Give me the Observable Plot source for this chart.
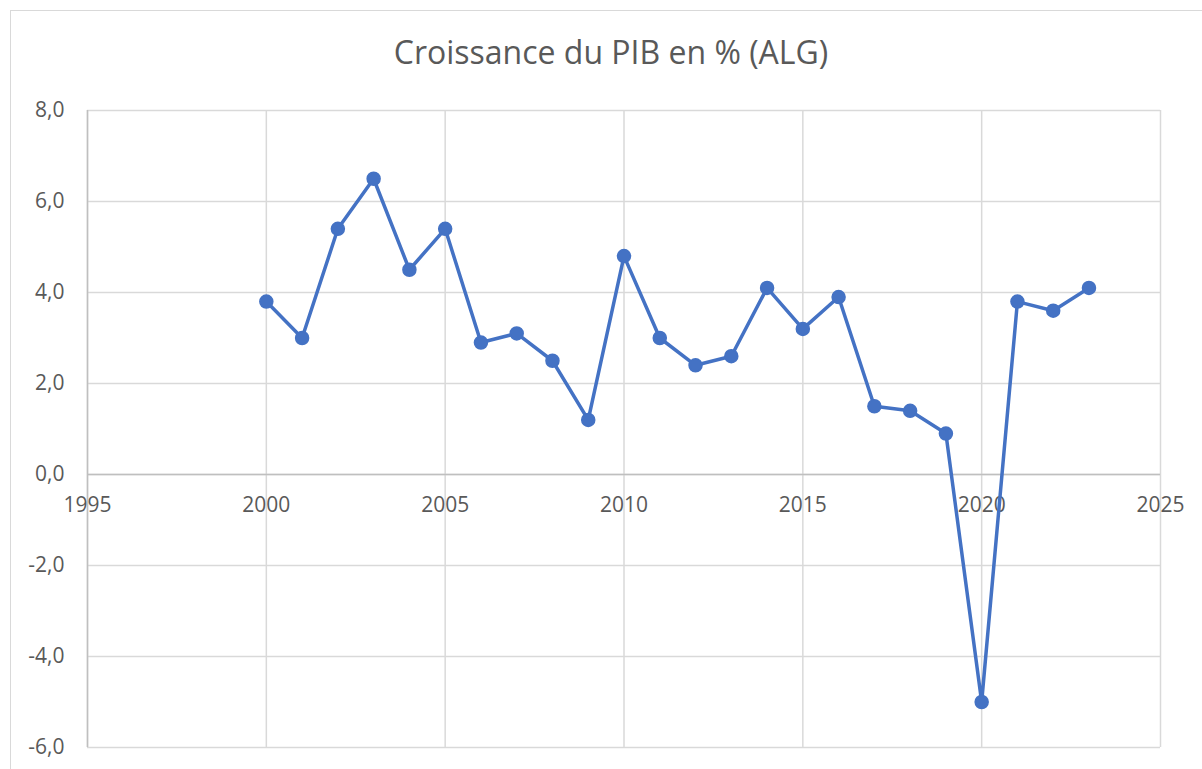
<!DOCTYPE html>
<html>
<head>
<meta charset="utf-8">
<script src="https://cdn.jsdelivr.net/npm/d3@7"></script>
<script src="https://cdn.jsdelivr.net/npm/@observablehq/plot@0.6"></script>
<style>
  html, body { margin: 0; padding: 0; background: #fff; overflow: hidden; }
  #wrap { position: relative; width: 1202px; height: 769px; }
  #border { position: absolute; left: 10px; top: 10px; width: 1210px; height: 780px; border: 1.5px solid #d9d9d9; box-sizing: border-box; }
  #title { position: absolute; left: 0; width: 1222px; top: 30px; text-align: center; font-family: "Open Sans", sans-serif; font-size: 32px; color: #595959; }
  #chart { position: absolute; left: 0; top: 0; }
</style>
</head>
<body>
<div id="wrap">
  <div id="border"></div>
  <div id="title">Croissance du PIB en % (ALG)</div>
  <div id="chart"></div>
</div>
<script>
const years = [2000,2001,2002,2003,2004,2005,2006,2007,2008,2009,2010,2011,2012,2013,2014,2015,2016,2017,2018,2019,2020,2021,2022,2023];
const growth = [3.8,3.0,5.4,6.5,4.5,5.4,2.9,3.1,2.5,1.2,4.8,3.0,2.4,2.6,4.1,3.2,3.9,1.5,1.4,0.9,-5.0,3.8,3.6,4.1];
const xTicks = [1995,2000,2005,2010,2015,2020,2025];
const yTicks = [-6,-4,-2,0,2,4,6,8];

const data = years.map((y, i) => ({year: y, value: growth[i]}));
const fmt = v => v.toFixed(1).replace(".", ",");
const font = "'Open Sans', sans-serif";

const plot = Plot.plot({
  width: 1202,
  height: 769,
  marginLeft: 87,
  marginTop: 110,
  marginRight: 42,
  marginBottom: 22,
  style: {fontFamily: font, fontSize: "21px", color: "#595959", background: "transparent"},
  x: {domain: [1995, 2025], axis: null},
  y: {domain: [-6, 8]},
  marks: [
    Plot.gridX(xTicks, {stroke: "#d9d9d9", strokeOpacity: 1, strokeWidth: 1.5}),
    Plot.gridY(yTicks, {stroke: "#d9d9d9", strokeOpacity: 1, strokeWidth: 1.5}),
    Plot.ruleX([1995], {stroke: "#bfbfbf", strokeWidth: 1.5}),
    Plot.ruleY([0], {stroke: "#bfbfbf", strokeWidth: 1.5}),
    Plot.axisY(yTicks, {tickSize: 0, tickPadding: 23, tickFormat: fmt, label: null, fill: "#595959", fontSize: 21}),
    Plot.text(xTicks, {x: d => d, y: 0, dy: 31, text: d => String(d), fill: "#595959", fontSize: 21}),
    Plot.line(data, {x: "year", y: "value", stroke: "#4472c4", strokeWidth: 3.5}),
    Plot.dot(data, {x: "year", y: "value", r: 6.5, fill: "#4472c4", stroke: "#4472c4"})
  ]
});
document.getElementById("chart").appendChild(plot);
</script>
</body>
</html>
